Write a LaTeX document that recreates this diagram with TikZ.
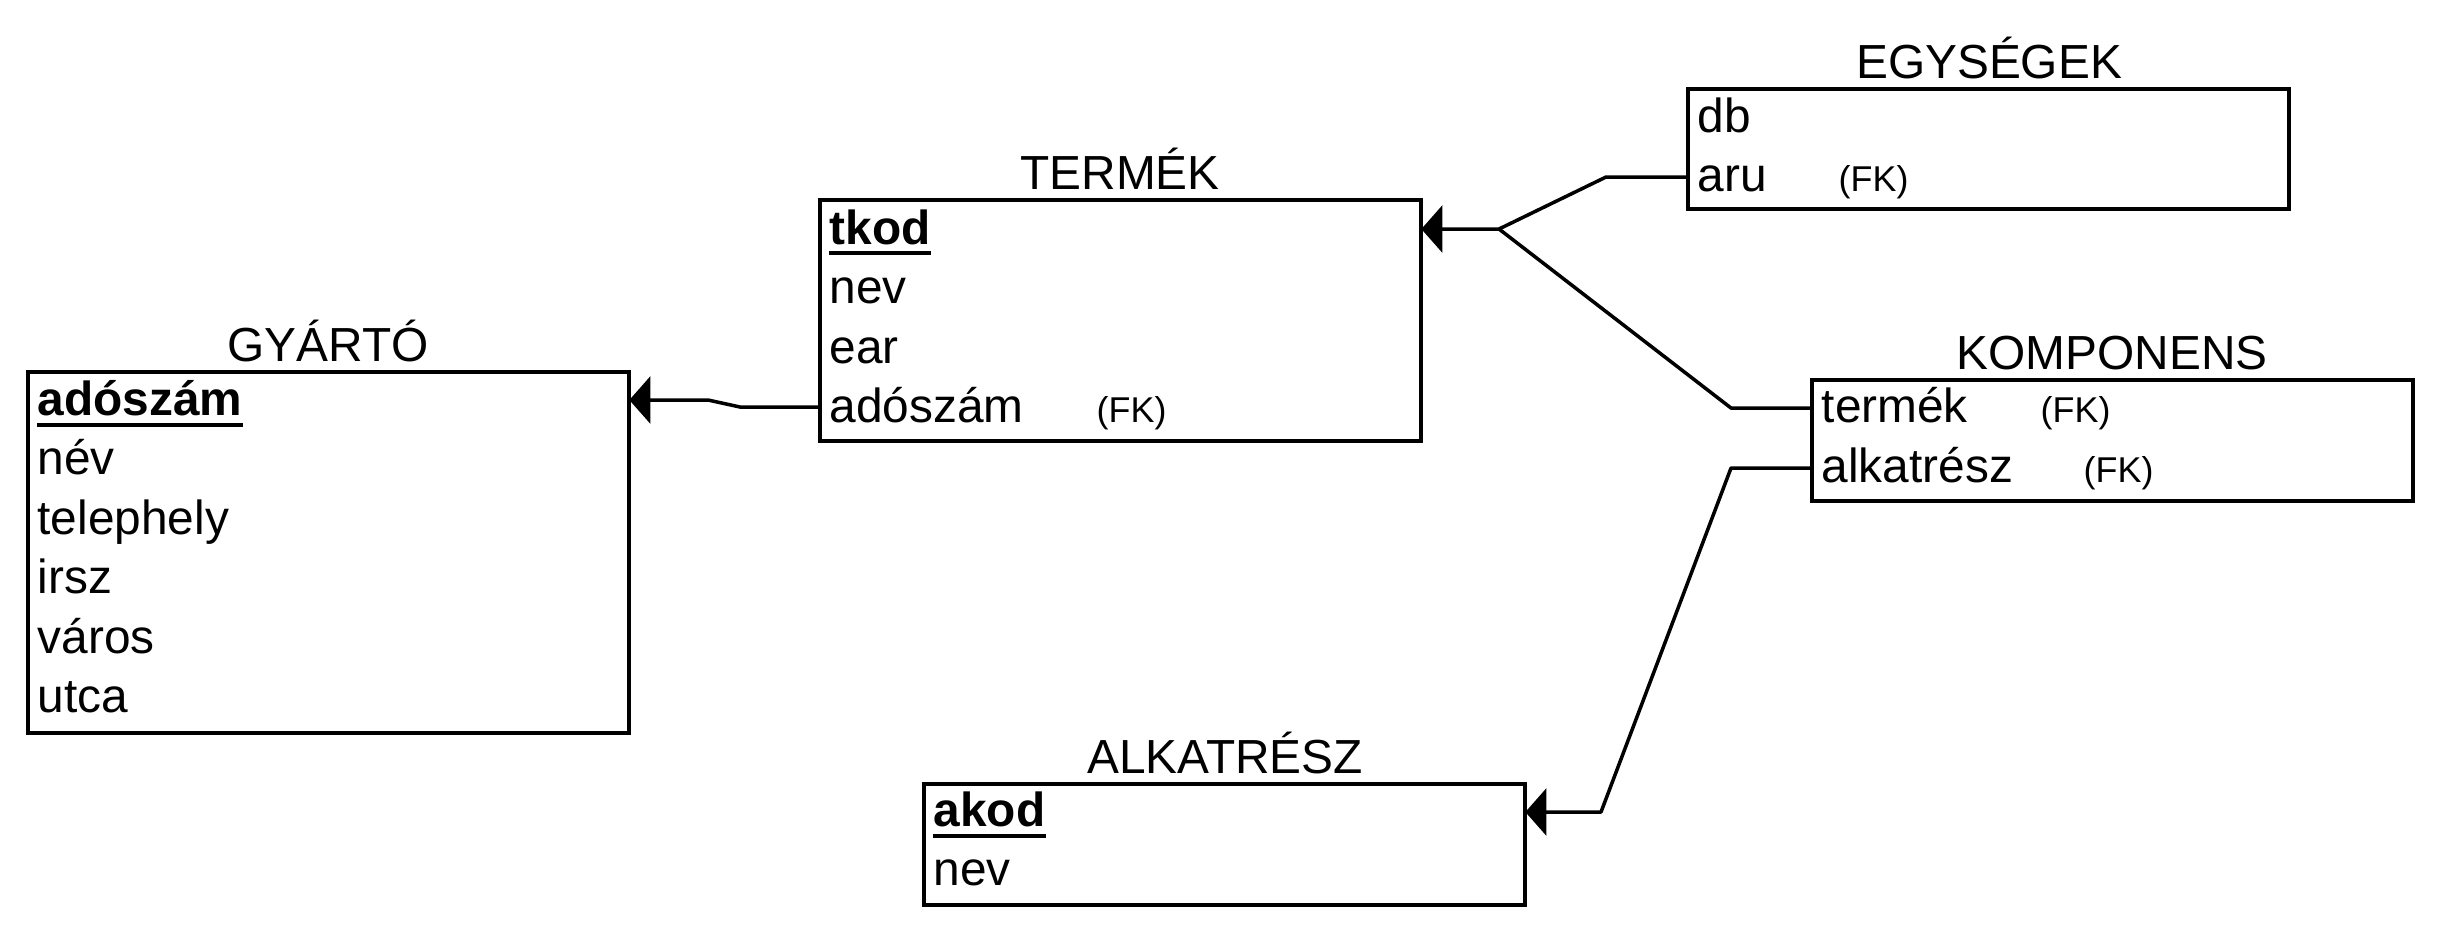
\documentclass[tikz,border=0pt]{standalone}
\usepackage{fontspec}
\setmainfont{Liberation Sans}
\usetikzlibrary{arrows.meta}
\begin{document}
\begin{tikzpicture}[x=0.01cm,y=-0.01cm,
 tbl/.style={draw, line width=1.1pt, inner sep=0pt, outer sep=0pt, anchor=north west, minimum width=6.01cm},
 fld/.style={inner sep=0pt, anchor=base west, font=\fontsize{13.6}{16}\selectfont},
 key/.style={fld, font=\fontsize{13.6}{16}\selectfont\bfseries},
 fk/.style={inner sep=0pt, anchor=base west, font=\fontsize{10.2}{12}\selectfont},
 ttl/.style={inner sep=0pt, anchor=base, font=\fontsize{13.6}{16}\selectfont},
 conn/.style={line width=1pt, line join=round},
 arr/.style={conn, -{Triangle[length=6pt,width=13.4pt]}},
 uline/.style={line width=1.3pt}]
\useasboundingbox (0,0) rectangle (2440,932);

% GYARTO
\node[tbl, minimum height=3.61cm] (gyarto) at (28,372) {};
\node[ttl] (gyartoT) at (328,361) {GYÁRTÓ};
\node[key] (g1) at (37,415) {adószám};
\node[fld] (g2) at (37,474.5) {név};
\node[fld] (g3) at (37,534) {telephely};
\node[fld] (g4) at (37,593.5) {irsz};
\node[fld] (g5) at (37,653) {város};
\node[fld] (g6) at (37,712.5) {utca};
\draw[uline] ([yshift=-0.1cm]g1.base west) -- ([yshift=-0.1cm]g1.base east);

% TERMEK
\node[tbl, minimum height=2.41cm] (termek) at (820,200) {};
\node[ttl] (termekT) at (1120,189) {TERMÉK};
\node[key] (t1) at (829,244) {tkod};
\node[fld] (t2) at (829,303.5) {nev};
\node[fld] (t3) at (829,363) {ear};
\node[fld] (t4) at (829,422.5) {adószám};
\node[fk] (t4fk) at (1096,422.5) {(FK)};
\draw[uline] ([yshift=-0.09cm]t1.base west) -- ([yshift=-0.09cm]t1.base east);

% EGYSEGEK
\node[tbl, minimum height=1.2cm] (egyseg) at (1688,89) {};
\node[ttl] (egysegT) at (1989,78) {EGYSÉGEK};
\node[fld] (e1t) at (1697,132) {db};
\node[fld] (e2t) at (1697,191.5) {aru};
\node[fk] (e2fk) at (1838,191.5) {(FK)};

% KOMPONENS
\node[tbl, minimum height=1.21cm] (komp) at (1812,380) {};
\node[ttl] (kompT) at (2112,369) {KOMPONENS};
\node[fld] (k1t) at (1821,422.5) {termék};
\node[fk] (k1fk) at (2040,422.5) {(FK)};
\node[fld] (k2t) at (1821,482) {alkatrész};
\node[fk] (k2fk) at (2083,482) {(FK)};

% ALKATRESZ
\node[tbl, minimum height=1.21cm] (alk) at (924,784) {};
\node[ttl] (alkT) at (1225,773) {ALKATRÉSZ};
\node[key] (a1t) at (933,826) {akod};
\node[fld] (a2t) at (933,885.5) {nev};
\draw[uline] ([yshift=-0.1cm]a1t.base west) -- ([yshift=-0.1cm]a1t.base east);

% connectors
\coordinate (j1) at (740,407);
\coordinate (j2) at (708,400);
\draw[arr] (termek.west |- j1) -- (j1) -- (j2) -- (gyarto.east |- j2);

\coordinate (jt) at (1499,229);
\coordinate (e1) at (1606,177);
\draw[arr] (egyseg.west |- e1) -- (e1) -- (jt) -- (termek.east |- jt);

\coordinate (k1) at (1731,408);
\draw[conn] (komp.west |- k1) -- (k1) -- (jt);

\coordinate (k2) at (1731,468);
\coordinate (a1) at (1601,812);
\draw[arr] (komp.west |- k2) -- (k2) -- (a1) -- (alk.east |- a1);
\end{tikzpicture}
\end{document}
